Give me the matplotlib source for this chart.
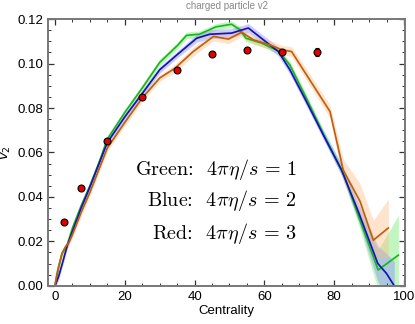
import matplotlib
matplotlib.use("Agg")  # headless
import matplotlib.pyplot as plt
from matplotlib.ticker import MultipleLocator

# ---- data -------------------------------------------------------------------
DATA_X = [2.5, 7.5, 15, 25, 35, 45, 55, 65, 75]
DATA_Y = [0.0288, 0.0440, 0.0650, 0.0849, 0.0972, 0.1045, 0.1063, 0.1052, 0.1052]
DATA_ERR = [0.0004, 0.0004, 0.0004, 0.0005, 0.0005, 0.0006, 0.0007, 0.0009, 0.0020]

# 4 pi eta/s = 1
GREEN_X = [0, 1, 2, 3.5, 5, 7.5, 10, 12.5, 15, 20, 25, 30, 35, 37.7, 41.4, 46.1,
           50.6, 53, 54.7, 59.2, 64, 67.3, 72, 77, 82.6, 87.5, 92.6, 98.4]
GREEN_Y = [0, 0.008, 0.0145, 0.0185, 0.026, 0.036, 0.045, 0.055, 0.066, 0.078,
           0.089, 0.1005, 0.108, 0.1127, 0.1132, 0.1165, 0.1177, 0.1152, 0.1114,
           0.1092, 0.1057, 0.0994, 0.0845, 0.068, 0.0506, 0.029, 0.0071, 0.0138]
GREEN_ERR = [0.001, 0.0015, 0.0015, 0.0015, 0.0015, 0.0015, 0.0015, 0.0015, 0.0015,
             0.0015, 0.0015, 0.0015, 0.0015, 0.0015, 0.0015, 0.0015, 0.0015, 0.0015,
             0.0015, 0.0015, 0.0015, 0.0015, 0.0018, 0.002, 0.0025, 0.004, 0.009, 0.018]

# 4 pi eta/s = 2
BLUE_X = [0, 1, 2, 3.5, 5, 7.5, 10, 12.5, 15, 20, 25, 30, 35, 40.6, 44.4, 50.6,
          55.4, 59.7, 64, 67.3, 72, 77, 82.1, 87, 92.5, 95, 97.2]
BLUE_Y = [0, 0.004, 0.0095, 0.018, 0.0245, 0.035, 0.0445, 0.0545, 0.0645, 0.076,
          0.0865, 0.0972, 0.104, 0.1114, 0.1132, 0.1137, 0.116, 0.1107, 0.1054,
          0.0972, 0.083, 0.0675, 0.0521, 0.033, 0.010, 0.0055, 0.0]
BLUE_ERR = [0.001, 0.0015, 0.0015, 0.0015, 0.0015, 0.0015, 0.0015, 0.0015, 0.0015,
            0.0015, 0.0015, 0.0015, 0.0015, 0.0018, 0.002, 0.002, 0.002, 0.002,
            0.002, 0.002, 0.002, 0.002, 0.0025, 0.004, 0.008, 0.009, 0.011]

# 4 pi eta/s = 3
ORANGE_X = [0, 0.5, 1, 2, 3, 4, 5, 7.5, 10, 12.5, 15, 20, 25, 30, 34.4, 39.6,
            45.4, 49.7, 53.5, 56.8, 61.6, 65, 67.8, 78.8, 82.6, 87.4, 91.2, 95.5]
ORANGE_Y = [0, 0.005, 0.0085, 0.0145, 0.0175, 0.0195, 0.023, 0.033, 0.042, 0.052,
            0.062, 0.0735, 0.0845, 0.0935, 0.0979, 0.1054, 0.1122, 0.111, 0.1141,
            0.1107, 0.1084, 0.1062, 0.1054, 0.0784, 0.052, 0.038, 0.0205, 0.026]
ORANGE_ERR = [0.001, 0.0015, 0.0015, 0.0015, 0.0015, 0.0015, 0.0015, 0.0015, 0.0015,
              0.0015, 0.0015, 0.0015, 0.0015, 0.0015, 0.0018, 0.002, 0.002, 0.002,
              0.002, 0.002, 0.002, 0.002, 0.0022, 0.003, 0.005, 0.008, 0.009, 0.013]

LABELS = [r"Green:  $4\pi\eta/s\,=\,1$",
          r"Blue:  $4\pi\eta/s\,=\,2$",
          r"Red:  $4\pi\eta/s\,=\,3$"]
LABEL_Y = [0.0524, 0.0385, 0.0236]

CURVES = [
    (GREEN_X, GREEN_Y, GREEN_ERR, "#1fb41f", "#8ef08e", 0.55),
    (BLUE_X, BLUE_Y, BLUE_ERR, "#1414b4", "#8f8fff", 0.45),
    (ORANGE_X, ORANGE_Y, ORANGE_ERR, "#bf600e", "#ffbb80", 0.40),
]


def main():
    plt.rcParams["font.family"] = ["Liberation Sans", "DejaVu Sans"]
    plt.rcParams["mathtext.fontset"] = "cm"

    fig = plt.figure(figsize=(4.15, 3.24), dpi=100)
    ax = fig.add_axes([0.1157, 0.118, 0.8603, 0.823])

    # bands first, then lines on top
    for xs, ys, es, _, band, alpha in CURVES:
        lo = [y - e for y, e in zip(ys, es)]
        hi = [y + e for y, e in zip(ys, es)]
        ax.fill_between(xs, lo, hi, color=band, alpha=alpha, lw=0)
    for xs, ys, _, line, _, _ in CURVES:
        ax.plot(xs, ys, color=line, lw=1.25)

    ax.errorbar(DATA_X, DATA_Y, yerr=DATA_ERR, fmt="o", ms=5, mfc="#e00000",
                mec="black", mew=0.8, ecolor="black", elinewidth=0.9, capsize=1.5,
                zorder=5)

    for txt, y in zip(LABELS, LABEL_Y):
        ax.text(69.3, y, txt, ha="right", va="center", fontsize=14.5,
                family=["cmr10", "DejaVu Serif"])

    ax.set_xlim(-2, 100.3)
    ax.set_ylim(0, 0.12)
    ax.xaxis.set_major_locator(MultipleLocator(20))
    ax.xaxis.set_minor_locator(MultipleLocator(5))
    ax.yaxis.set_major_locator(MultipleLocator(0.02))
    ax.yaxis.set_minor_locator(MultipleLocator(0.005))
    ax.yaxis.set_major_formatter(lambda v, pos: f"{v:.2f}")
    ax.tick_params(which="both", direction="in", top=True, right=True,
                   color="#333333", labelsize=9.5)
    ax.tick_params(which="major", length=4, width=0.9)
    ax.tick_params(which="minor", length=2, width=0.7)
    for sp in ax.spines.values():
        sp.set_color("#777777")
        sp.set_linewidth(1.4)

    ax.set_xlabel("Centrality", fontsize=9.5, labelpad=2)
    ax.set_ylabel(r"$v_2$", fontsize=9.5, labelpad=3, math_fontfamily="dejavusans")
    ax.set_title("charged particle v2", fontsize=7, color="#888888", pad=7)

    fig.savefig("out.png", dpi=100)
    plt.close(fig)


if __name__ == "__main__":
    main()
